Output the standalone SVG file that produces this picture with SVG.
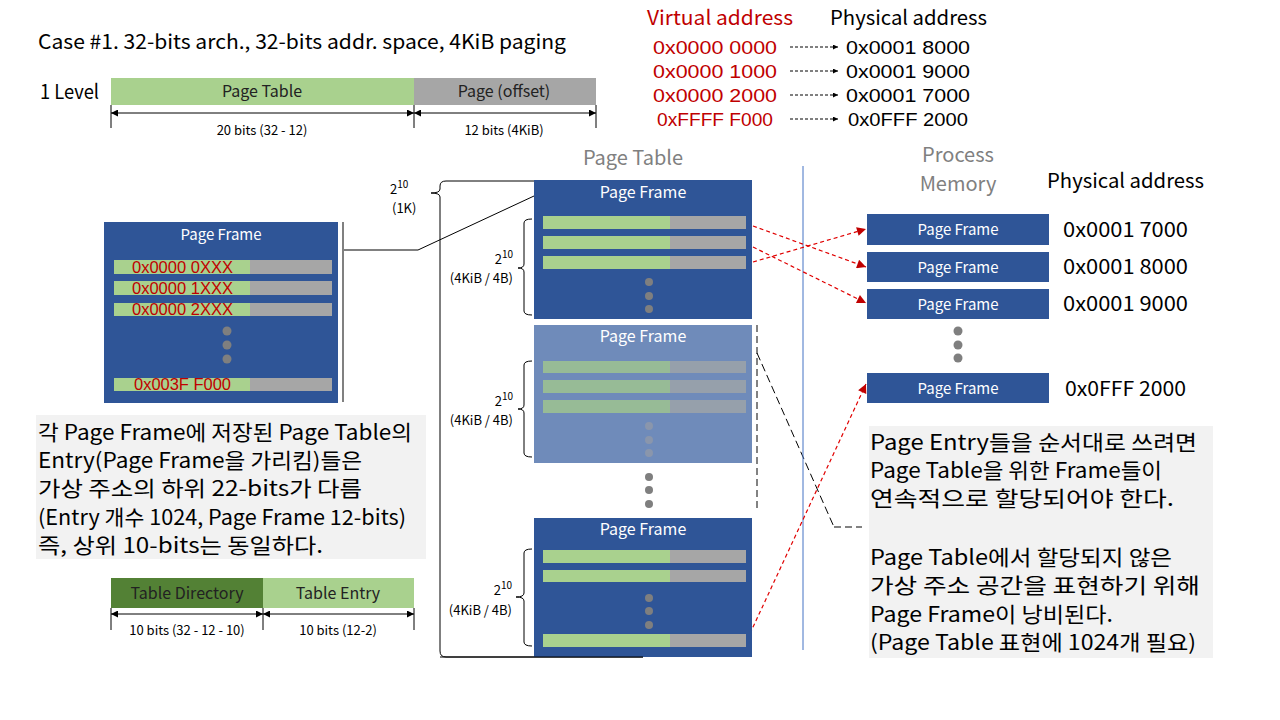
<svg xmlns="http://www.w3.org/2000/svg" width="1280" height="720" viewBox="0 0 1280 720">
<defs>
<marker id="ah" viewBox="0 0 10 10" refX="10" refY="5" markerWidth="9" markerHeight="7" markerUnits="userSpaceOnUse" orient="auto-start-reverse"><path d="M0,0 L10,5 L0,10 z" fill="#000"/></marker>
<marker id="ahs" viewBox="0 0 10 10" refX="10" refY="5" markerWidth="7" markerHeight="5" markerUnits="userSpaceOnUse" orient="auto"><path d="M0,0 L10,5 L0,10 z" fill="#000"/></marker>
<marker id="ahr" viewBox="0 0 10 10" refX="10" refY="5" markerWidth="11" markerHeight="9" markerUnits="userSpaceOnUse" orient="auto"><path d="M0,0 L10,5 L0,10 z" fill="#c00000"/></marker>
</defs>
<style>
text{font-family:"Noto Sans CJK KR","Noto Sans",sans-serif;}
.t20{font-size:20px;fill:#000;}
.addr{font-family:"Liberation Sans","Noto Sans",sans-serif;font-size:19px;fill:#000;}
.red{fill:#c00000;}
.gray{fill:#808080;}
.s13{font-size:13px;fill:#000;}
.s17{font-family:"Liberation Sans","Noto Sans",sans-serif;font-size:16px;}
.s16{font-size:16px;fill:#222;}
.wt{fill:#fff;font-size:15px;}
.wt16{fill:#fff;font-size:16px;}
.kr{font-size:21px;fill:#000;}
.frame{fill:#2f5597;}
.lframe{fill:#6f8bba;}
.g{fill:#a9d18e;}
.gr{fill:#a6a6a6;}
.lg{fill:#97bb96;}
.lgr{fill:#96a0ab;}
.dot{fill:#7f7f7f;}
.ldot{fill:#8a96ac;}
.blk{stroke:#000;stroke-width:1;fill:none;}
.rd{stroke:#e00000;stroke-width:1.2;stroke-dasharray:4 3;fill:none;}
.bd{stroke:#000;stroke-width:1;stroke-dasharray:3 2;fill:none;}
</style>

<!-- Title and 1-level bit layout -->
<g id="title">
<text class="t20" x="38" y="49" textLength="528" lengthAdjust="spacingAndGlyphs">Case #1. 32-bits arch., 32-bits addr. space, 4KiB paging</text>
</g>
<g id="level1">
<text class="t20" x="40" y="99" font-size="19" textLength="59" lengthAdjust="spacingAndGlyphs">1 Level</text>
<rect x="111" y="78" width="303" height="27" class="g"/>
<rect x="414" y="78" width="182" height="27" class="gr"/>
<text class="s16" x="262" y="97" text-anchor="middle">Page Table</text>
<text class="s16" x="504" y="97" text-anchor="middle">Page (offset)</text>
<line x1="111" y1="105" x2="111" y2="128" class="blk"/>
<line x1="414" y1="105" x2="414" y2="128" class="blk"/>
<line x1="596" y1="105" x2="596" y2="128" class="blk"/>
<text class="s13" x="262" y="135" text-anchor="middle">20 bits (32 - 12)</text>
<text class="s13" x="504" y="135" text-anchor="middle">12 bits (4KiB)</text>
</g>

<!-- Address mapping table -->
<g id="mapping">
<text class="t20 red" x="647" y="25" textLength="146" lengthAdjust="spacingAndGlyphs">Virtual address</text>
<text class="t20" x="830" y="25" textLength="157" lengthAdjust="spacingAndGlyphs">Physical address</text>
<text class="addr red" x="653" y="54" textLength="124" lengthAdjust="spacingAndGlyphs">0x0000 0000</text>
<text class="addr red" x="653" y="78" textLength="124" lengthAdjust="spacingAndGlyphs">0x0000 1000</text>
<text class="addr red" x="653" y="102" textLength="124" lengthAdjust="spacingAndGlyphs">0x0000 2000</text>
<text class="addr red" x="657" y="126" textLength="116" lengthAdjust="spacingAndGlyphs">0xFFFF F000</text>
<text class="addr" x="846" y="54" textLength="124" lengthAdjust="spacingAndGlyphs">0x0001 8000</text>
<text class="addr" x="846" y="78" textLength="124" lengthAdjust="spacingAndGlyphs">0x0001 9000</text>
<text class="addr" x="846" y="102" textLength="124" lengthAdjust="spacingAndGlyphs">0x0001 7000</text>
<text class="addr" x="848" y="126" textLength="120" lengthAdjust="spacingAndGlyphs">0x0FFF 2000</text>
</g>

<!-- Left page frame -->
<g id="left-frame">
<rect x="104" y="222" width="234" height="181" class="frame"/>
<text class="wt" x="221" y="240" text-anchor="middle" font-size="17">Page Frame</text>
<rect x="114" y="260" width="136" height="14" class="g"/><rect x="250" y="260" width="82" height="14" class="gr"/>
<rect x="114" y="281" width="136" height="14" class="g"/><rect x="250" y="281" width="82" height="14" class="gr"/>
<rect x="114" y="303" width="136" height="13" class="g"/><rect x="250" y="303" width="82" height="13" class="gr"/>
<rect x="114" y="378" width="136" height="13" class="g"/><rect x="250" y="378" width="82" height="13" class="gr"/>
<text class="s17 red" x="132" y="273" textLength="101" lengthAdjust="spacingAndGlyphs">0x0000 0XXX</text>
<text class="s17 red" x="132" y="294" textLength="101" lengthAdjust="spacingAndGlyphs">0x0000 1XXX</text>
<text class="s17 red" x="132" y="315" textLength="101" lengthAdjust="spacingAndGlyphs">0x0000 2XXX</text>
<text class="s17 red" x="134" y="390" textLength="97" lengthAdjust="spacingAndGlyphs">0x003F F000</text>
<circle cx="227" cy="331" r="4.5" class="dot"/><circle cx="227" cy="345" r="4.5" class="dot"/><circle cx="227" cy="359" r="4.5" class="dot"/>
</g>

<!-- Connectors -->
<g id="connectors">
<line x1="343" y1="222" x2="343" y2="402" stroke="#808080" stroke-width="2"/>
<line x1="343" y1="250" x2="418" y2="250" stroke="#808080" stroke-width="2"/>
<line x1="418" y1="250" x2="534" y2="196" class="blk"/>
<path d="M534,181 H446 Q440,181 440,186 V189 Q440,193 431,193 Q440,193 440,197 V651 Q440,657 446,657 H643" class="blk"/>
<line x1="111" y1="113" x2="414" y2="113" class="blk" marker-start="url(#ah)" marker-end="url(#ah)"/>
<line x1="414" y1="113" x2="596" y2="113" class="blk" marker-start="url(#ah)" marker-end="url(#ah)"/>
<line x1="111" y1="614" x2="263" y2="614" class="blk" marker-start="url(#ah)" marker-end="url(#ah)"/>
<line x1="263" y1="614" x2="414" y2="614" class="blk" marker-start="url(#ah)" marker-end="url(#ah)"/>
<line x1="790" y1="47" x2="838" y2="47" class="bd" marker-end="url(#ahs)"/>
<line x1="790" y1="71" x2="838" y2="71" class="bd" marker-end="url(#ahs)"/>
<line x1="790" y1="95" x2="838" y2="95" class="bd" marker-end="url(#ahs)"/>
<line x1="790" y1="119" x2="838" y2="119" class="bd" marker-end="url(#ahs)"/>
<line x1="757" y1="325" x2="757" y2="508" stroke="#595959" stroke-width="1.5" stroke-dasharray="7 4"/>
<polyline points="757,353 834,527" fill="none" stroke="#000" stroke-width="1" stroke-dasharray="8 4"/>
<line x1="834" y1="527" x2="862" y2="527" stroke="#595959" stroke-width="1.5" stroke-dasharray="7 4"/>
<line x1="803" y1="166" x2="803" y2="650" stroke="#4472c4" stroke-width="1"/>
<line x1="753" y1="226" x2="866" y2="267" class="rd" marker-end="url(#ahr)"/>
<line x1="753" y1="247" x2="866" y2="303" class="rd" marker-end="url(#ahr)"/>
<line x1="753" y1="262" x2="866" y2="229" class="rd" marker-end="url(#ahr)"/>
<line x1="747" y1="640" x2="866" y2="384" class="rd" marker-end="url(#ahr)"/>
</g>

<!-- Page table heading -->
<text class="t20 gray" x="633" y="165" text-anchor="middle">Page Table</text>

<!-- Outer brace label -->
<g id="brace-outer-label">
<text class="s13" x="390" y="194" font-size="14">2<tspan font-size="10" dy="-6">10</tspan></text>
<text class="s13" x="392" y="213">(1K)</text>
</g>

<!-- Page table frame 1 -->
<g id="pt-frame1">
<rect x="534" y="180" width="218" height="139" class="frame"/>
<text class="wt16" x="643" y="198" text-anchor="middle">Page Frame</text>
<rect x="543" y="216" width="127" height="13" class="g"/><rect x="670" y="216" width="76" height="13" class="gr"/>
<rect x="543" y="236" width="127" height="13" class="g"/><rect x="670" y="236" width="76" height="13" class="gr"/>
<rect x="543" y="256" width="127" height="13" class="g"/><rect x="670" y="256" width="76" height="13" class="gr"/>
<circle cx="649" cy="282" r="4" class="dot"/><circle cx="649" cy="296" r="4" class="dot"/><circle cx="649" cy="309" r="4" class="dot"/>
<path d="M532,219 Q524,219 524,223 V264 Q524,268 518,268 Q524,268 524,272 V311 Q524,315 532,315" class="blk"/>
<text class="s13" x="513" y="264" text-anchor="end" font-size="14">2<tspan font-size="10" dy="-6">10</tspan></text>
<text class="s13" x="513" y="283" text-anchor="end">(4KiB / 4B)</text>
</g>

<!-- Page table frame 2 (light) -->
<g id="pt-frame2">
<rect x="534" y="325" width="218" height="138" class="lframe"/>
<text class="wt16" x="643" y="342" text-anchor="middle">Page Frame</text>
<rect x="543" y="361" width="127" height="12" class="lg"/><rect x="670" y="361" width="76" height="12" class="lgr"/>
<rect x="543" y="380" width="127" height="13" class="lg"/><rect x="670" y="380" width="76" height="13" class="lgr"/>
<rect x="543" y="400" width="127" height="13" class="lg"/><rect x="670" y="400" width="76" height="13" class="lgr"/>
<circle cx="649" cy="426" r="4" class="ldot"/><circle cx="649" cy="440" r="4" class="ldot"/><circle cx="649" cy="453" r="4" class="ldot"/>
<path d="M532,361 Q524,361 524,365 V405 Q524,409 518,409 Q524,409 524,413 V453 Q524,457 532,457" class="blk"/>
<text class="s13" x="513" y="406" text-anchor="end" font-size="14">2<tspan font-size="10" dy="-6">10</tspan></text>
<text class="s13" x="513" y="425" text-anchor="end">(4KiB / 4B)</text>
</g>

<circle cx="649" cy="477" r="4" class="dot"/><circle cx="649" cy="490" r="4" class="dot"/><circle cx="649" cy="504" r="4" class="dot"/>

<!-- Page table frame 3 -->
<g id="pt-frame3">
<rect x="534" y="518" width="218" height="139" class="frame"/>
<text class="wt16" x="643" y="535" text-anchor="middle">Page Frame</text>
<rect x="543" y="550" width="127" height="13" class="g"/><rect x="670" y="550" width="76" height="13" class="gr"/>
<rect x="543" y="570" width="127" height="12" class="g"/><rect x="670" y="570" width="76" height="12" class="gr"/>
<rect x="543" y="634" width="127" height="13" class="g"/><rect x="670" y="634" width="76" height="13" class="gr"/>
<circle cx="649" cy="598" r="4" class="dot"/><circle cx="649" cy="611" r="4" class="dot"/><circle cx="649" cy="625" r="4" class="dot"/>
<path d="M532,549 Q524,549 524,553 V593 Q524,597 516,597 Q524,597 524,601 V642 Q524,646 532,646" class="blk"/>
<text class="s13" x="512" y="595" text-anchor="end" font-size="14">2<tspan font-size="10" dy="-6">10</tspan></text>
<text class="s13" x="512" y="615" text-anchor="end">(4KiB / 4B)</text>
</g>
<line x1="440" y1="657" x2="643" y2="657" class="blk"/>

<!-- Process memory -->
<g id="process-memory">
<text class="t20 gray" x="958" y="162" text-anchor="middle">Process</text>
<text class="t20 gray" x="958" y="191" text-anchor="middle">Memory</text>
<text class="t20" x="1047" y="188" textLength="157" lengthAdjust="spacingAndGlyphs">Physical address</text>
</g>
<g id="pm-frame1">
<rect x="867" y="214" width="182" height="31" class="frame"/>
<text class="wt" x="958" y="235" text-anchor="middle">Page Frame</text>
<text class="t20" x="1063" y="237" textLength="125" lengthAdjust="spacingAndGlyphs">0x0001 7000</text>
</g>
<g id="pm-frame2">
<rect x="867" y="252" width="182" height="30" class="frame"/>
<text class="wt" x="958" y="273" text-anchor="middle">Page Frame</text>
<text class="t20" x="1063" y="274" textLength="125" lengthAdjust="spacingAndGlyphs">0x0001 8000</text>
</g>
<g id="pm-frame3">
<rect x="867" y="289" width="182" height="30" class="frame"/>
<text class="wt" x="958" y="310" text-anchor="middle">Page Frame</text>
<text class="t20" x="1063" y="311" textLength="125" lengthAdjust="spacingAndGlyphs">0x0001 9000</text>
</g>
<circle cx="958" cy="331" r="4.5" class="dot"/><circle cx="958" cy="345" r="4.5" class="dot"/><circle cx="958" cy="358" r="4.5" class="dot"/>
<g id="pm-frame4">
<rect x="867" y="373" width="182" height="30" class="frame"/>
<text class="wt" x="958" y="394" text-anchor="middle">Page Frame</text>
<text class="t20" x="1065" y="396" textLength="121" lengthAdjust="spacingAndGlyphs">0x0FFF 2000</text>
</g>

<!-- Left note -->
<g id="note-left">
<rect x="36" y="415" width="390" height="144" fill="#f2f2f2"/>
<text class="kr" x="38" y="440" textLength="374" lengthAdjust="spacingAndGlyphs">각 Page Frame에 저장된 Page Table의</text>
<text class="kr" x="38" y="468" textLength="324" lengthAdjust="spacingAndGlyphs">Entry(Page Frame을 가리킴)들은</text>
<text class="kr" x="38" y="496" textLength="324" lengthAdjust="spacingAndGlyphs">가상 주소의 하위 22-bits가 다름</text>
<text class="kr" x="38" y="525" textLength="368" lengthAdjust="spacingAndGlyphs">(Entry 개수 1024, Page Frame 12-bits)</text>
<text class="kr" x="38" y="553" textLength="285" lengthAdjust="spacingAndGlyphs">즉, 상위 10-bits는 동일하다.</text>
</g>

<!-- Two-level bit layout -->
<g id="level2">
<rect x="111" y="578" width="152" height="30" fill="#538135"/>
<rect x="263" y="578" width="151" height="30" class="g"/>
<text class="s16" x="187" y="599" text-anchor="middle">Table Directory</text>
<text class="s16" x="338" y="599" text-anchor="middle">Table Entry</text>
<line x1="111" y1="608" x2="111" y2="630" class="blk"/>
<line x1="263" y1="608" x2="263" y2="630" class="blk"/>
<line x1="414" y1="608" x2="414" y2="630" class="blk"/>
<text class="s13" x="187" y="635" text-anchor="middle">10 bits (32 - 12 - 10)</text>
<text class="s13" x="338" y="635" text-anchor="middle">10 bits (12-2)</text>
</g>

<!-- Right note -->
<g id="note-right">
<rect x="869" y="426" width="344" height="232" fill="#f2f2f2"/>
<text class="kr" x="870" y="450" textLength="327" lengthAdjust="spacingAndGlyphs">Page Entry들을 순서대로 쓰려면</text>
<text class="kr" x="870" y="478" textLength="292" lengthAdjust="spacingAndGlyphs">Page Table을 위한 Frame들이</text>
<text class="kr" x="870" y="506" textLength="304" lengthAdjust="spacingAndGlyphs">연속적으로 할당되어야 한다.</text>
<text class="kr" x="870" y="565" textLength="302" lengthAdjust="spacingAndGlyphs">Page Table에서 할당되지 않은</text>
<text class="kr" x="870" y="593" textLength="330" lengthAdjust="spacingAndGlyphs">가상 주소 공간을 표현하기 위해</text>
<text class="kr" x="870" y="622" textLength="243" lengthAdjust="spacingAndGlyphs">Page Frame이 낭비된다.</text>
<text class="kr" x="870" y="650" textLength="326" lengthAdjust="spacingAndGlyphs">(Page Table 표현에 1024개 필요)</text>
</g>
</svg>
